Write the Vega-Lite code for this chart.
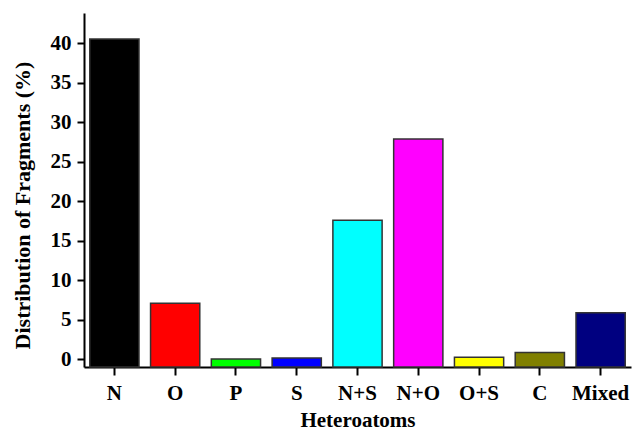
{
  "$schema": "https://vega.github.io/schema/vega-lite/v6.json",
  "autosize": {"type": "none"},
  "padding": {"left": 84, "top": 13, "right": 2, "bottom": 65},
  "width": 547,
  "height": 354,
  "background": "white",
  "data": {"values": [
    {"cat": "N", "value": 40.5, "color": "#000000"},
    {"cat": "O", "value": 7.1, "color": "#FF0000"},
    {"cat": "P", "value": 0.05, "color": "#00FF00"},
    {"cat": "S", "value": 0.17, "color": "#0000FF"},
    {"cat": "N+S", "value": 17.6, "color": "#00FFFF"},
    {"cat": "N+O", "value": 27.85, "color": "#FF00FF"},
    {"cat": "O+S", "value": 0.25, "color": "#FFFF00"},
    {"cat": "C", "value": 0.85, "color": "#808000"},
    {"cat": "Mixed", "value": 5.9, "color": "#000080"}
  ]},
  "mark": {"type": "bar", "stroke": "#333333", "strokeWidth": 1.5},
  "encoding": {
    "x": {
      "field": "cat", "type": "nominal", "sort": null,
      "scale": {"paddingInner": 0.19, "paddingOuter": 0.095},
      "axis": {
        "title": "Heteroatoms", "labelAngle": 0,
        "labelFont": "Liberation Serif", "labelFontWeight": "bold", "labelFontSize": 21, "labelColor": "black",
        "titleFont": "Liberation Serif", "titleFontWeight": "bold", "titleFontSize": 21, "titleColor": "black",
        "domainColor": "black", "domainWidth": 2, "tickColor": "black", "tickWidth": 2, "tickSize": 8,
        "labelPadding": 7, "titlePadding": 6, "grid": false
      }
    },
    "y": {
      "field": "value", "type": "quantitative",
      "scale": {"domain": [-0.97, 43.8], "nice": false, "zero": false},
      "axis": {
        "title": "Distribution of Fragments (%)", "values": [0, 5, 10, 15, 20, 25, 30, 35, 40],
        "labelFont": "Liberation Serif", "labelFontWeight": "bold", "labelFontSize": 21, "labelColor": "black",
        "titleFont": "Liberation Serif", "titleFontWeight": "bold", "titleFontSize": 22, "titleColor": "black",
        "domainColor": "black", "domainWidth": 2, "tickColor": "black", "tickWidth": 2, "tickSize": 7,
        "labelPadding": 6, "titlePadding": 16, "titleY": 192, "grid": false
      }
    },
    "y2": {"datum": -0.97},
    "color": {"field": "color", "type": "nominal", "scale": null, "legend": null}
  },
  "config": {"view": {"stroke": null}}
}
